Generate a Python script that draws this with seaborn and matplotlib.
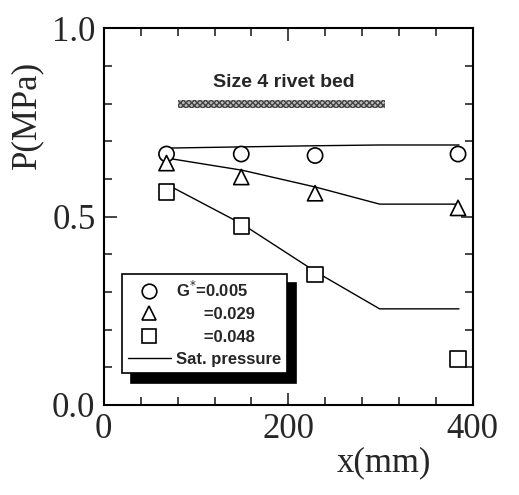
import matplotlib
matplotlib.use("Agg")
import matplotlib.pyplot as plt
import seaborn as sns
import pandas as pd
import numpy as np
from matplotlib.ticker import MultipleLocator
from matplotlib.lines import Line2D

# ---- data ----
x_meas = [68, 149, 229, 384]
p_g005 = [0.666, 0.666, 0.662, 0.666]
p_g029 = [0.642, 0.605, 0.562, 0.523]
p_g048 = [0.565, 0.475, 0.347, 0.122]

sat_x = [74, 150, 230, 299, 385]
sat_g005 = [0.682, 0.685, 0.688, 0.690, 0.690]
sat_g029 = [0.653, 0.623, 0.578, 0.533, 0.533]
sat_g048 = [0.578, 0.480, 0.353, 0.255, 0.255]

bed_x = [80, 305]
bed_y = 0.798
bed_label = "Size 4 rivet bed"

legend_labels = ["G$^{*}$=0.005", "      =0.029", "      =0.048", "Sat. pressure"]
x_ticks = [0, 200, 400]
y_ticks = [0.0, 0.5, 1.0]

sns.set_style("ticks")
plt.rcParams['font.family'] = ['Liberation Serif', 'DejaVu Serif']

fig = plt.figure(figsize=(5.19, 4.95), dpi=100)
ax = fig.add_axes([0.200, 0.182, 0.711, 0.761])

meas = pd.DataFrame({
    "x": x_meas * 3,
    "p": p_g005 + p_g029 + p_g048,
    "g": ["0.005"] * 4 + ["0.029"] * 4 + ["0.048"] * 4,
})
sat = pd.DataFrame({
    "x": sat_x * 3,
    "p": sat_g005 + sat_g029 + sat_g048,
    "g": ["0.005"] * 5 + ["0.029"] * 5 + ["0.048"] * 5,
})

sns.lineplot(data=sat, x="x", y="p", units="g", estimator=None, color="black",
             lw=1.0, ax=ax, legend=False, sort=False)
sns.scatterplot(data=meas, x="x", y="p", style="g",
                markers={"0.005": "o", "0.029": "^", "0.048": "s"},
                s=120, facecolor="white", edgecolor="black", linewidth=1.2,
                ax=ax, legend=False, zorder=3)

# rivet bed band
ax.fill_between(bed_x, bed_y - 0.011, bed_y + 0.011, facecolor="#bbbbbb",
                edgecolor="#444444", hatch="xxxxxx", lw=0)
ax.text(np.mean([100, 290]), 0.857, bed_label, ha="center", va="center",
        fontsize=14, family=["Liberation Sans"], fontweight="bold")

ax.set_xlim(0, 400)
ax.set_ylim(0, 1.0)
ax.set_xticks(x_ticks)
ax.set_yticks(y_ticks)
ax.set_xticklabels([str(v) for v in x_ticks])
ax.set_yticklabels([f"{v:.1f}" for v in y_ticks])
ax.xaxis.set_minor_locator(MultipleLocator(40))
ax.yaxis.set_minor_locator(MultipleLocator(0.1))
ax.tick_params(which="both", direction="in", top=True, right=True,
               labelsize=25, width=1.2, pad=6)
ax.tick_params(which="major", length=9)
ax.tick_params(which="minor", length=6)
for s in ax.spines.values():
    s.set_linewidth(1.5)
    s.set_color("black")

ax.set_xlabel("x(mm)", fontsize=25)
ax.xaxis.set_label_coords(0.76, -0.11)
ax.set_ylabel("P(MPa)", fontsize=25)
ax.yaxis.set_label_coords(-0.165, 0.77)

handles = [
    Line2D([], [], ls="none", marker="o", ms=10.5, mfc="white", mec="black", mew=1.2),
    Line2D([], [], ls="none", marker="^", ms=10.5, mfc="white", mec="black", mew=1.2),
    Line2D([], [], ls="none", marker="s", ms=10.5, mfc="white", mec="black", mew=1.2),
    Line2D([], [], color="black", lw=1.0),
]
leg = ax.legend(handles, legend_labels, loc="lower left",
                bbox_to_anchor=(0.049, 0.085), borderaxespad=0,
                fancybox=False, frameon=True, edgecolor="black",
                prop={"family": "Liberation Sans", "weight": "bold", "size": 12},
                handlelength=2.6, handletextpad=0.3, labelspacing=0.45,
                borderpad=0.35,
                shadow={"ox": 6.5, "oy": -7, "facecolor": "black",
                        "edgecolor": "black", "alpha": 1})
leg.get_frame().set_linewidth(1.2)
leg.get_frame().set_alpha(1)

fig.savefig("out.png", dpi=100)
